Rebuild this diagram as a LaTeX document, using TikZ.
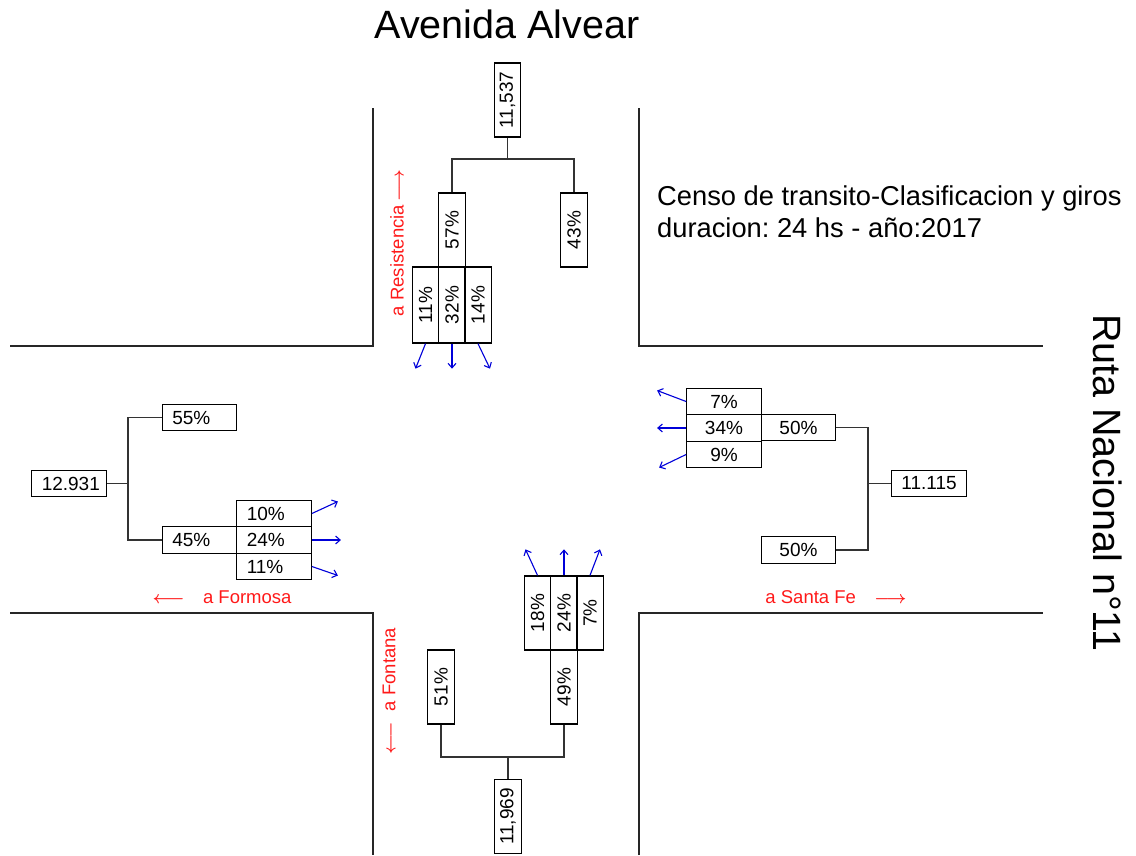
\documentclass[tikz,border=0pt]{standalone}
\usepackage{fontspec}
\setmainfont{Liberation Sans}
\frenchspacing
\usetikzlibrary{arrows.meta}
\begin{document}
\begin{tikzpicture}[x=1pt,y=-1pt,
  road/.style={line width=1.3pt,black!85},
  conn/.style={line width=1.3pt,black!80},
  cbox/.style={draw,line width=1.3pt,inner sep=0pt,font=\fontsize{19}{22}\selectfont},
  hbox/.style={cbox,minimum width=74.5pt,minimum height=26.5pt},
  lbox/.style={hbox,text width=54.5pt,align=left,inner xsep=10pt},
  vbox/.style={cbox,rotate=90,minimum width=74pt,minimum height=26.5pt},
  vboxs/.style={cbox,rotate=90,minimum width=76pt,minimum height=26.5pt},
  flow/.style={blue!85!black,line width=1.1pt,-{Straight Barb[length=4.5pt,width=8pt]}},
  dest/.style={red!90,font=\fontsize{18.5}{22}\selectfont\boldmath,inner sep=0pt},
  big/.style={font=\fontsize{39.5}{46}\selectfont,inner sep=0pt}
]
\useasboundingbox (0,0) rectangle (1136,855);
% roads
\draw[road] (10,346) -- (373,346) -- (373,108);
\draw[road] (639,108) -- (639,346) -- (1043,346);
\draw[road] (10,613) -- (373,613) -- (373,855);
\draw[road] (639,855) -- (639,613) -- (1043,613);
% titles
\node[big] (tit) at (507,24) {Avenida Alvear};
\node[big,rotate=-90] (ruta) at (1108,483) {Ruta Nacional n°11};
\node[anchor=base west,inner sep=0pt,font=\fontsize{27.3}{32}\selectfont] (cen1) at (657,205) {Censo de transito-Clasificacion y giros};
\node[anchor=base west,inner sep=0pt,font=\fontsize{27.3}{32}\selectfont] (cen2) at (657,237) {duracion: 24 hs - año:2017};
% top
\node[vbox] (t0) at (507.5,100) {11,537};
\node[vbox] (t57) at (452,230) {57\%};
\node[vbox] (t43) at (574,230) {43\%};
\node[vboxs] (t11) at (425.5,305) {11\%};
\node[vboxs] (t32) at (452,305) {32\%};
\node[vboxs] (t14) at (478,305) {14\%};
\coordinate (tj) at (507.5,159);
\draw[conn] (t57.east) |- (tj) -| (t43.east);
\draw[conn] (t0.west) -- (tj);
\draw[flow] (t11.west) -- ++(-10,25);
\draw[flow] (t32.west) -- ++(0,25);
\draw[flow] (t14.west) -- ++(12,25);
\node[dest,rotate=90] (res) at (397,243) {a Resistencia\,$\longrightarrow$};
% left
\node[lbox] (l0) at (69,483.5) {12.931};
\node[lbox] (l55) at (199.5,417.5) {55\%};
\node[lbox] (l45) at (199.5,540) {45\%};
\node[lbox] (l10) at (274,513.5) {10\%};
\node[lbox] (l24) at (274,540) {24\%};
\node[lbox] (l11) at (274,566.5) {11\%};
\coordinate (lj) at (128,483.5);
\draw[conn] (l55.west) -| (lj) |- (l45.west);
\draw[conn] (l0.east) -- (lj);
\draw[flow] (l10.east) -- ++(26,-12);
\draw[flow] (l24.east) -- ++(29,0);
\draw[flow] (l11.east) -- ++(26,9);
\node[dest] (form) at (222,597) {$\longleftarrow$\quad a Formosa};
% right
\node[hbox] (r7) at (724,401.5) {7\%};
\node[hbox] (r34) at (724,428) {34\%};
\node[hbox] (r9) at (724,454.5) {9\%};
\node[hbox] (r50a) at (798.5,427.5) {50\%};
\node[hbox] (r0) at (929,483.5) {11.115};
\node[hbox] (r50b) at (798.5,550) {50\%};
\coordinate (rj) at (868,483.5);
\draw[conn] (r50a.east) -| (rj) |- (r50b.east);
\draw[conn] (rj) -- (r0.west);
\draw[flow] (r7.west) -- ++(-29,-11);
\draw[flow] (r34.west) -- ++(-29,0);
\draw[flow] (r9.west) -- ++(-27,13);
\node[dest] (sfe) at (836,597) {a Santa Fe\quad$\longrightarrow$};
% bottom
\node[vbox] (b18) at (537.5,613) {18\%};
\node[vbox] (b24) at (564,613) {24\%};
\node[vbox] (b7) at (590,613) {7\%};
\node[vbox] (b49) at (564,687) {49\%};
\node[vbox] (b51) at (441,687) {51\%};
\node[vbox] (b0) at (508,816.5) {11,969};
\coordinate (bj) at (508,757);
\draw[conn] (b51.west) |- (bj) -| (b49.west);
\draw[conn] (bj) -- (b0.east);
\draw[flow] (b18.east) -- ++(-12,-26);
\draw[flow] (b24.east) -- ++(0,-26);
\draw[flow] (b7.east) -- ++(10,-26);
\node[dest,rotate=90] (fon) at (389,691) {$\longleftarrow$\,\, a Fontana};
\end{tikzpicture}
\end{document}
